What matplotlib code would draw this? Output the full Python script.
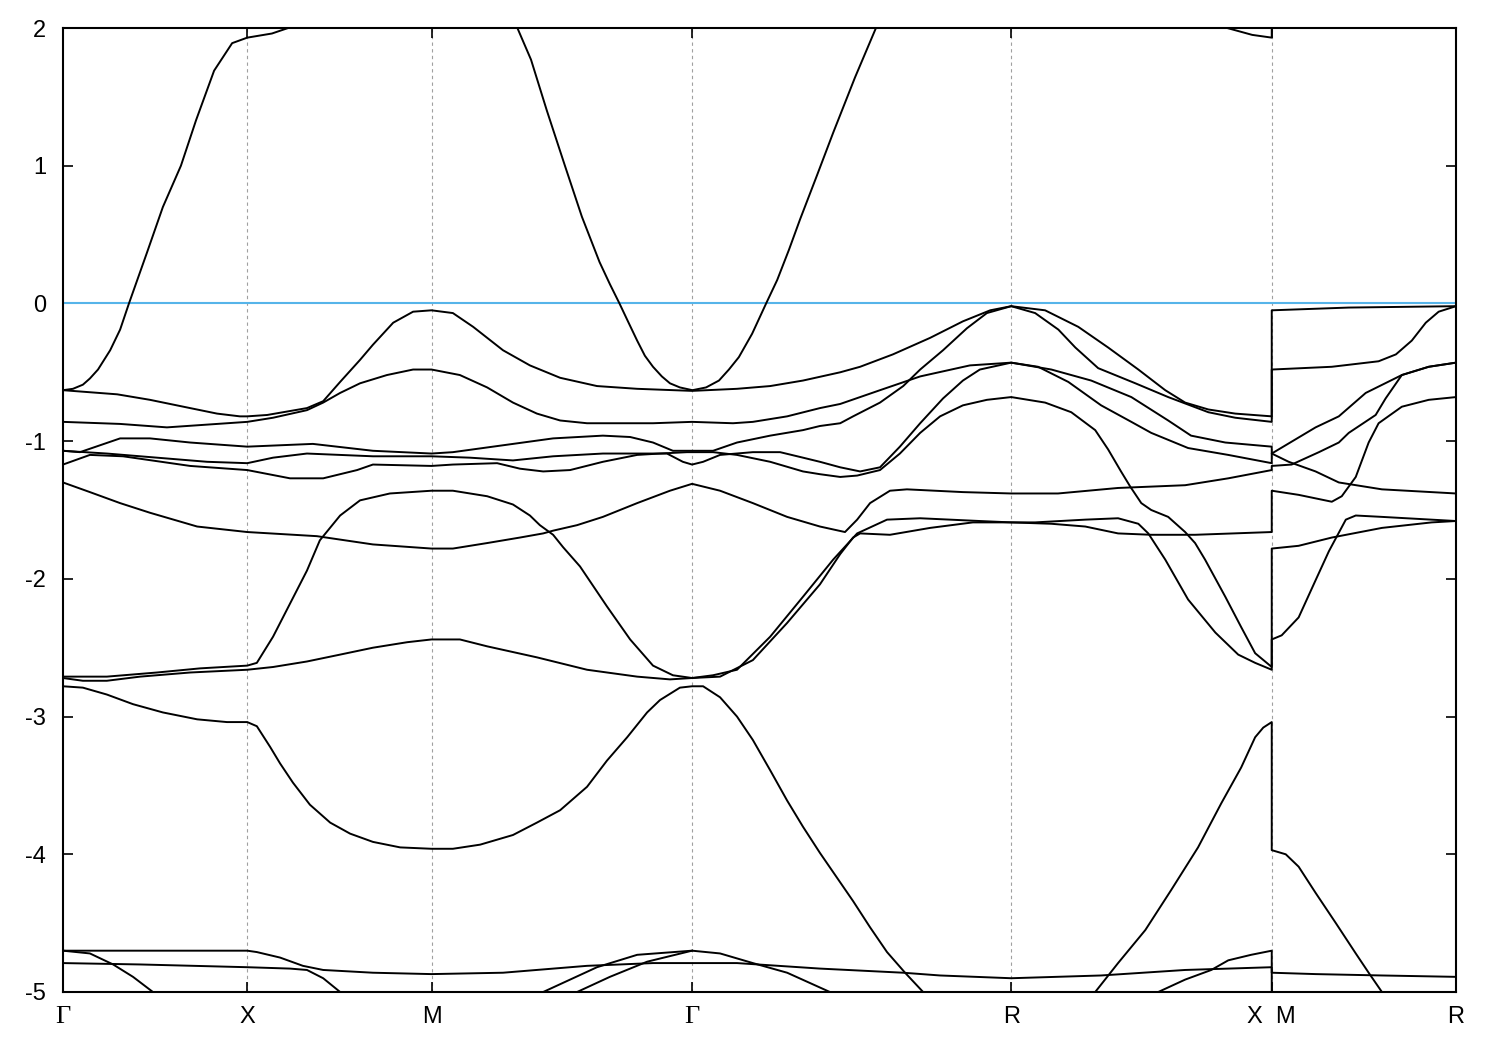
import matplotlib
matplotlib.use("Agg")
import matplotlib.pyplot as plt

# ---------------- data ----------------
node_k = [0.0, 0.5, 1.0, 1.707, 2.573, 3.280, 3.780]
node_labels = ["Γ", "X", "M", "Γ", "R", "X  M", "R"]
y_ticks = [-5, -4, -3, -2, -1, 0, 1, 2]
y_tick_labels = ["-5", "-4", "-3", "-2", "-1", "0", "1", "2"]
fermi_level = 0.0

band_a_k = [0, 0.027, 0.054, 0.073, 0.095, 0.128, 0.155, 0.179, 0.228, 0.271, 0.320, 0.361, 0.410, 0.459, 0.5, 0.567, 0.611, 0.64]
band_a_e = [-0.63, -0.62, -0.59, -0.545, -0.48, -0.34, -0.19, 0.0, 0.37, 0.70, 1.0, 1.33, 1.69, 1.89, 1.93, 1.96, 2.0, 2.05]

band_b_k = [1.22, 1.233, 1.270, 1.313, 1.362, 1.408, 1.456, 1.484, 1.510, 1.533, 1.558, 1.579, 1.601, 1.625, 1.647, 1.674, 1.708,
            1.745, 1.780, 1.807, 1.834, 1.870, 1.908, 1.938, 1.970, 2.000, 2.046, 2.090, 2.149, 2.206, 2.23]
band_b_e = [2.12, 2.0, 1.77, 1.40, 1.0, 0.63, 0.30, 0.14, 0.0, -0.13, -0.27, -0.38, -0.46, -0.53, -0.58, -0.61, -0.63,
            -0.61, -0.56, -0.48, -0.39, -0.22, 0.0, 0.17, 0.39, 0.61, 0.93, 1.24, 1.64, 2.0, 2.14]

band_c_k = [0, 0.147, 0.236, 0.345, 0.418, 0.480, 0.5, 0.554, 0.662, 0.706, 0.752, 0.806, 0.841, 0.896, 0.950, 1.0,
            1.058, 1.113, 1.194, 1.267, 1.349, 1.449, 1.558, 1.707,
            1.829, 1.919, 2.008, 2.109, 2.163, 2.252, 2.353, 2.442, 2.516, 2.573,
            2.665, 2.755, 2.836, 2.918, 2.991, 3.045, 3.108, 3.181, 3.280,
            3.280, 3.489, 3.780]
band_c_e = [-0.63, -0.66, -0.70, -0.76, -0.80, -0.82, -0.82, -0.81, -0.76, -0.71, -0.57, -0.41, -0.30, -0.14, -0.06, -0.05,
            -0.07, -0.17, -0.34, -0.45, -0.54, -0.60, -0.62, -0.635,
            -0.62, -0.60, -0.56, -0.50, -0.46, -0.37, -0.25, -0.13, -0.05, -0.02,
            -0.05, -0.17, -0.32, -0.48, -0.63, -0.72, -0.77, -0.80, -0.82,
            -0.05, -0.03, -0.02]

band_d_k = [0, 0.155, 0.282, 0.391, 0.5, 0.570, 0.662, 0.706, 0.752, 0.806, 0.879, 0.950, 1.0,
            1.077, 1.151, 1.221, 1.286, 1.349, 1.422, 1.512, 1.601, 1.707,
            1.818, 1.872, 1.965, 2.054, 2.109, 2.217, 2.326, 2.461, 2.573,
            2.682, 2.790, 2.899, 2.999, 3.061, 3.154, 3.280,
            3.280, 3.399, 3.462, 3.535, 3.633, 3.706, 3.780]
band_d_e = [-0.86, -0.875, -0.90, -0.88, -0.86, -0.83, -0.775, -0.72, -0.65, -0.58, -0.52, -0.48, -0.48,
            -0.52, -0.61, -0.72, -0.80, -0.85, -0.87, -0.87, -0.87, -0.86,
            -0.87, -0.86, -0.82, -0.76, -0.73, -0.63, -0.53, -0.45, -0.43,
            -0.48, -0.56, -0.68, -0.85, -0.96, -1.01, -1.04,
            -1.09, -0.90, -0.82, -0.65, -0.52, -0.46, -0.43]

band_h1_k = [0, 0.046, 0.155, 0.236, 0.345, 0.5, 0.678, 0.841, 1.0,
             1.058, 1.194, 1.330, 1.465, 1.539, 1.601, 1.655, 1.707,
             1.764, 1.829, 1.919, 2.008, 2.054, 2.109, 2.144, 2.217, 2.280, 2.326, 2.388, 2.453, 2.507, 2.573,
             2.638, 2.701, 2.747, 2.809, 2.910, 2.999, 3.108, 3.181, 3.280,
             3.280, 3.443, 3.570, 3.617, 3.660, 3.698, 3.733, 3.780]
band_h1_e = [-1.07, -1.08, -0.98, -0.98, -1.01, -1.04, -1.02, -1.07, -1.09,
             -1.08, -1.03, -0.98, -0.96, -0.97, -1.01, -1.07, -1.07,
             -1.07, -1.01, -0.96, -0.92, -0.89, -0.87, -0.82, -0.72, -0.60, -0.48, -0.34, -0.18, -0.07, -0.02,
             -0.07, -0.19, -0.32, -0.47, -0.58, -0.68, -0.79, -0.83, -0.86,
             -0.48, -0.46, -0.42, -0.37, -0.27, -0.14, -0.06, -0.02]

band_h2_k = [0, 0.119, 0.255, 0.391, 0.5, 0.570, 0.662, 0.841, 1.0,
             1.104, 1.221, 1.330, 1.465, 1.601, 1.639, 1.682, 1.707,
             1.737, 1.783, 1.872, 1.946, 2.008, 2.054, 2.109, 2.163, 2.217, 2.271, 2.326, 2.388, 2.442, 2.488, 2.573,
             2.646, 2.728, 2.817, 2.899, 2.953, 3.053, 3.162, 3.280,
             3.280, 3.326, 3.399, 3.462, 3.579, 3.780]
band_h2_e = [-1.07, -1.09, -1.12, -1.15, -1.16, -1.12, -1.09, -1.11, -1.11,
             -1.12, -1.14, -1.11, -1.09, -1.09, -1.09, -1.15, -1.17,
             -1.15, -1.10, -1.08, -1.08, -1.12, -1.15, -1.19, -1.22, -1.19, -1.04, -0.87, -0.69, -0.56, -0.48, -0.43,
             -0.46, -0.57, -0.74, -0.86, -0.94, -1.05, -1.10, -1.16,
             -1.09, -1.15, -1.22, -1.30, -1.35, -1.38]

band_h3_k = [0, 0.073, 0.163, 0.345, 0.5, 0.616, 0.706, 0.798, 0.841, 1.0,
             1.058, 1.178, 1.240, 1.303, 1.376, 1.465, 1.558, 1.620, 1.693, 1.707,
             1.764, 1.829, 1.919, 2.008, 2.054, 2.109, 2.155, 2.217, 2.271, 2.326, 2.380, 2.442, 2.507, 2.573,
             2.665, 2.736, 2.801, 2.836, 2.871, 2.896, 2.926, 2.953, 2.999, 3.045, 3.072, 3.099, 3.154, 3.197, 3.235, 3.280,
             3.280, 3.353, 3.443, 3.579, 3.714, 3.780]
band_h3_e = [-1.17, -1.10, -1.11, -1.18, -1.21, -1.27, -1.27, -1.21, -1.17, -1.18,
             -1.17, -1.16, -1.20, -1.22, -1.21, -1.15, -1.10, -1.09, -1.08, -1.08,
             -1.08, -1.10, -1.15, -1.22, -1.24, -1.26, -1.25, -1.21, -1.09, -0.94, -0.82, -0.74, -0.70, -0.68,
             -0.72, -0.79, -0.92, -1.06, -1.22, -1.33, -1.45, -1.50, -1.55, -1.66, -1.74, -1.86, -2.13, -2.35, -2.54, -2.64,
             -1.78, -1.76, -1.70, -1.63, -1.59, -1.58]

band_f_k = [0, 0.073, 0.155, 0.236, 0.364, 0.5, 0.689, 0.841, 1.0,
            1.058, 1.151, 1.240, 1.303, 1.330, 1.395, 1.465, 1.558, 1.647, 1.707,
            1.783, 1.872, 1.965, 2.054, 2.122, 2.155, 2.190, 2.244, 2.290, 2.442, 2.573,
            2.700, 2.863, 3.045, 3.162, 3.280,
            3.280, 3.334, 3.408, 3.462, 3.489, 3.562, 3.589, 3.633, 3.706, 3.780]
band_f_e = [-1.30, -1.37, -1.45, -1.52, -1.62, -1.66, -1.69, -1.75, -1.78,
            -1.78, -1.74, -1.70, -1.67, -1.65, -1.61, -1.55, -1.45, -1.36, -1.31,
            -1.36, -1.45, -1.55, -1.62, -1.66, -1.57, -1.45, -1.36, -1.35, -1.37, -1.38,
            -1.38, -1.34, -1.32, -1.27, -1.21,
            -1.18, -1.17, -1.08, -1.01, -0.94, -0.81, -0.69, -0.52, -0.46, -0.43]

band_g_k = [0, 0.119, 0.255, 0.372, 0.5, 0.526, 0.570, 0.616, 0.662, 0.697, 0.752, 0.806, 0.887, 1.0,
            1.058, 1.151, 1.221, 1.267, 1.294, 1.330, 1.357, 1.403, 1.476, 1.539, 1.601, 1.655, 1.707,
            1.783, 1.872, 1.965, 2.054, 2.109, 2.144, 2.163, 2.244, 2.353, 2.469, 2.573,
            2.638, 2.774, 2.863, 2.918, 2.945, 2.991, 3.053, 3.127, 3.189, 3.235, 3.280,
            3.280, 3.307, 3.353, 3.399, 3.435, 3.481, 3.508, 3.579, 3.780]
band_g_e = [-2.71, -2.71, -2.68, -2.65, -2.63, -2.61, -2.42, -2.18, -1.94, -1.72, -1.54, -1.43, -1.38, -1.36,
            -1.36, -1.40, -1.46, -1.54, -1.61, -1.68, -1.77, -1.91, -2.20, -2.44, -2.63, -2.70, -2.72,
            -2.71, -2.59, -2.32, -2.04, -1.82, -1.70, -1.67, -1.68, -1.63, -1.59, -1.59,
            -1.59, -1.57, -1.56, -1.60, -1.67, -1.86, -2.15, -2.39, -2.55, -2.61, -2.66,
            -2.44, -2.41, -2.28, -2.01, -1.80, -1.57, -1.54, -1.55, -1.58]

band_g2_k = [0, 0.054, 0.119, 0.209, 0.345, 0.5, 0.570, 0.662, 0.752, 0.841, 0.934, 1.0,
             1.077, 1.151, 1.286, 1.422, 1.558, 1.647, 1.707,
             1.764, 1.829, 1.919, 2.008, 2.090, 2.155, 2.236, 2.326, 2.488, 2.573,
             2.682, 2.774, 2.863, 2.953, 3.072, 3.280,
             3.280, 3.353, 3.443, 3.470, 3.508, 3.543, 3.570, 3.633, 3.706, 3.780]
band_g2_e = [-2.72, -2.74, -2.74, -2.71, -2.68, -2.66, -2.64, -2.60, -2.55, -2.50, -2.46, -2.44,
             -2.44, -2.49, -2.57, -2.66, -2.71, -2.73, -2.72,
             -2.70, -2.66, -2.42, -2.13, -1.86, -1.67, -1.57, -1.56, -1.58, -1.59,
             -1.60, -1.62, -1.67, -1.68, -1.68, -1.66,
             -1.36, -1.39, -1.44, -1.40, -1.26, -1.01, -0.87, -0.75, -0.70, -0.68]

band_low1_k = [0, 0.054, 0.119, 0.190, 0.271, 0.364, 0.445, 0.5,
               0.526, 0.562, 0.589, 0.624, 0.670, 0.725, 0.779, 0.841, 0.915, 1.0,
               1.058, 1.132, 1.221, 1.286, 1.349, 1.422, 1.476, 1.531, 1.585, 1.620, 1.674, 1.707,
               1.737, 1.783, 1.829, 1.872, 1.919, 1.965, 2.008, 2.054, 2.090, 2.144, 2.190, 2.236, 2.285, 2.334, 2.36]
band_low1_e = [-2.78, -2.79, -2.84, -2.91, -2.97, -3.02, -3.04, -3.04,
               -3.07, -3.22, -3.34, -3.48, -3.64, -3.77, -3.85, -3.91, -3.95, -3.96,
               -3.96, -3.93, -3.86, -3.77, -3.68, -3.51, -3.32, -3.15, -2.97, -2.88, -2.79, -2.78,
               -2.78, -2.86, -3.00, -3.17, -3.39, -3.61, -3.80, -3.99, -4.13, -4.34, -4.53, -4.71, -4.86, -5.0, -5.1]

band_low2_k = [2.78, 2.801, 2.863, 2.937, 3.007, 3.080, 3.143, 3.197, 3.235, 3.257, 3.280,
               3.280, 3.318, 3.353, 3.399, 3.454, 3.508, 3.543, 3.579, 3.60]
band_low2_e = [-5.13, -5.0, -4.79, -4.55, -4.26, -3.95, -3.63, -3.37, -3.15, -3.08, -3.04,
               -3.97, -4.0, -4.09, -4.28, -4.50, -4.72, -4.86, -5.0, -5.13]

band_low3_k = [0, 0.5, 0.526, 0.589, 0.651, 0.706, 0.841, 1.0, 1.194, 1.422, 1.601, 1.707, 1.829,
               2.054, 2.280, 2.380, 2.573, 2.817, 3.045, 3.280, 3.280]
band_low3_e = [-4.70, -4.70, -4.71, -4.75, -4.81, -4.84, -4.86, -4.87, -4.86, -4.81, -4.79, -4.79, -4.79,
               -4.83, -4.86, -4.88, -4.90, -4.88, -4.84, -4.82, -5.3]

band_low4_k = [0, 0.209, 0.5, 0.616, 0.662, 0.706, 0.752, 0.78]
band_low4_e = [-4.79, -4.80, -4.82, -4.83, -4.84, -4.90, -5.0, -5.12]

band_low5_k = [0, 0.073, 0.136, 0.190, 0.244, 0.265]
band_low5_e = [-4.70, -4.72, -4.80, -4.89, -5.0, -5.12]

band_low6_k = [1.28, 1.303, 1.449, 1.558, 1.707, 1.783, 1.872, 1.965, 2.081, 2.10]
band_low6_e = [-5.12, -5.0, -4.82, -4.73, -4.70, -4.72, -4.79, -4.86, -5.0, -5.1]

band_low7_k = [1.37, 1.395, 1.484, 1.585, 1.707]
band_low7_e = [-5.12, -5.0, -4.89, -4.78, -4.70]

band_low8_k = [2.95, 2.972, 3.045, 3.116, 3.162, 3.224, 3.280, 3.280, 3.399, 3.579, 3.780]
band_low8_e = [-5.12, -5.0, -4.91, -4.84, -4.77, -4.73, -4.70, -4.86, -4.87, -4.88, -4.89]

band_top_k = [3.14, 3.159, 3.227, 3.280, 3.280]
band_top_e = [2.06, 2.0, 1.95, 1.93, 2.3]

bands = [
    (band_a_k, band_a_e), (band_b_k, band_b_e), (band_c_k, band_c_e), (band_d_k, band_d_e),
    (band_h1_k, band_h1_e), (band_h2_k, band_h2_e), (band_h3_k, band_h3_e), (band_f_k, band_f_e),
    (band_g_k, band_g_e), (band_g2_k, band_g2_e), (band_low1_k, band_low1_e), (band_low2_k, band_low2_e),
    (band_low3_k, band_low3_e), (band_low4_k, band_low4_e), (band_low5_k, band_low5_e),
    (band_low6_k, band_low6_e), (band_low7_k, band_low7_e), (band_low8_k, band_low8_e),
    (band_top_k, band_top_e),
]

# ---------------- figure ----------------
plt.rcParams["font.family"] = ["Liberation Sans", "DejaVu Sans"]
plt.rcParams["axes.unicode_minus"] = False

fig = plt.figure(figsize=(15, 10.5), dpi=100)
ax = fig.add_axes([63 / 1500, 58 / 1050, (1456 - 63) / 1500, (992 - 28) / 1050])

for k in node_k[1:-1]:
    ax.axvline(k, color="#a0a0a0", lw=0.8, ls=(0, (3, 3)), zorder=1)

ax.axhline(fermi_level, color="#56b4e9", lw=1.5, zorder=2)

for kk, ee in bands:
    ax.plot(kk, ee, color="black", lw=1.4, zorder=3, solid_joinstyle="round")

ax.set_xlim(node_k[0], node_k[-1])
ax.set_ylim(-5, 2)
ax.set_xticks(node_k)
ax.set_xticklabels(node_labels)
ax.set_yticks(y_ticks)
ax.set_yticklabels(y_tick_labels)

ax.tick_params(direction="in", length=7, width=1.2, top=True, right=True,
               labelsize=17, colors="black")
ax.tick_params(axis="x", pad=10)
ax.tick_params(axis="y", pad=12)
for lab in ax.get_xticklabels():
    if lab.get_text() == "Γ":
        lab.set_fontfamily(["Liberation Serif", "DejaVu Serif"])
        lab.set_fontsize(19)

for sp in ax.spines.values():
    sp.set_linewidth(1.5)
    sp.set_color("black")

fig.savefig("out.png", dpi=100, facecolor="white")
